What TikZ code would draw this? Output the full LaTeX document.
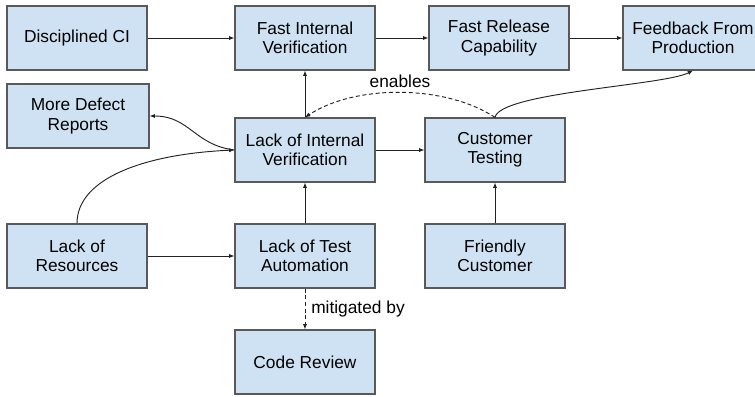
\documentclass[tikz,border=0pt]{standalone}
\usepackage{fontspec}
\setmainfont{Liberation Sans}
\usetikzlibrary{arrows.meta}
\definecolor{boxfill}{HTML}{CFE2F3}
\definecolor{boxline}{HTML}{595959}
\definecolor{linecol}{HTML}{222222}
\tikzset{
  procbox/.style={draw=boxline, fill=boxfill, line width=0.9pt, minimum width=105pt, minimum height=48pt, align=center, font=\fontsize{13}{14.5}\selectfont},
  arr/.style={draw=linecol, line width=0.7pt, -{Latex[length=4pt,width=3.2pt]}},
  dasharr/.style={arr, dash pattern=on 3pt off 2pt},
  lbl/.style={font=\fontsize{13}{14.5}\selectfont}
}
\begin{document}
\begin{tikzpicture}[x=0.75pt,y=0.75pt]
\useasboundingbox (0,0) rectangle (755,396);

%Flowchart: Process
\node [procbox] (disc) at (77,358) {Disciplined CI};
%Flowchart: Process
\node [procbox] (fiv) at (305,358) {Fast Internal\\Verification};
%Flowchart: Process
\node [procbox] (frc) at (499,358) {Fast Release\\Capability};
%Flowchart: Process
\node [procbox] (ffp) at (693,358) {Feedback From\\Production};
%Flowchart: Process
\node [procbox, minimum width=106.5pt] (mdr) at (78,280) {More Defect\\Reports};
%Flowchart: Process
\node [procbox] (liv) at (305,246) {Lack of Internal\\Verification};
%Flowchart: Process
\node [procbox] (ct) at (495,246) {Customer\\Testing};
%Flowchart: Process
\node [procbox] (lor) at (77,140) {Lack of\\Resources};
%Flowchart: Process
\node [procbox] (lta) at (305,140) {Lack of Test\\Automation};
%Flowchart: Process
\node [procbox] (fc) at (495,140) {Friendly\\Customer};
%Flowchart: Process
\node [procbox] (cr) at (305,34) {Code Review};

%Straight Lines
\draw [arr] (disc) -- (fiv);
\draw [arr] (fiv) -- (frc);
\draw [arr] (frc) -- (ffp);
\draw [arr] (liv) -- (fiv);
\draw [arr] (liv) -- (ct);
\draw [arr] (lta) -- (liv);
\draw [arr] (lor) -- (lta);
\draw [arr] (fc) -- (ct);
\draw [dasharr] (lta) -- (cr) node [lbl, midway, right, xshift=1pt] {mitigated by};

%Curve Lines
\draw [arr] (liv.west) .. controls +(-40,5) and +(40,0) .. (mdr.east);
\draw [arr] (lor.north) .. controls +(0,45) and +(-90,-4) .. (liv.west);
\draw [arr] (ct.north) .. controls +(5,25) and +(-30,-15) .. (ffp.south);
\draw [dasharr] (ct.north) .. controls +(-50,33) and +(50,33) .. (liv.north) node [lbl, pos=0.5, above] {enables};

\end{tikzpicture}
\end{document}
